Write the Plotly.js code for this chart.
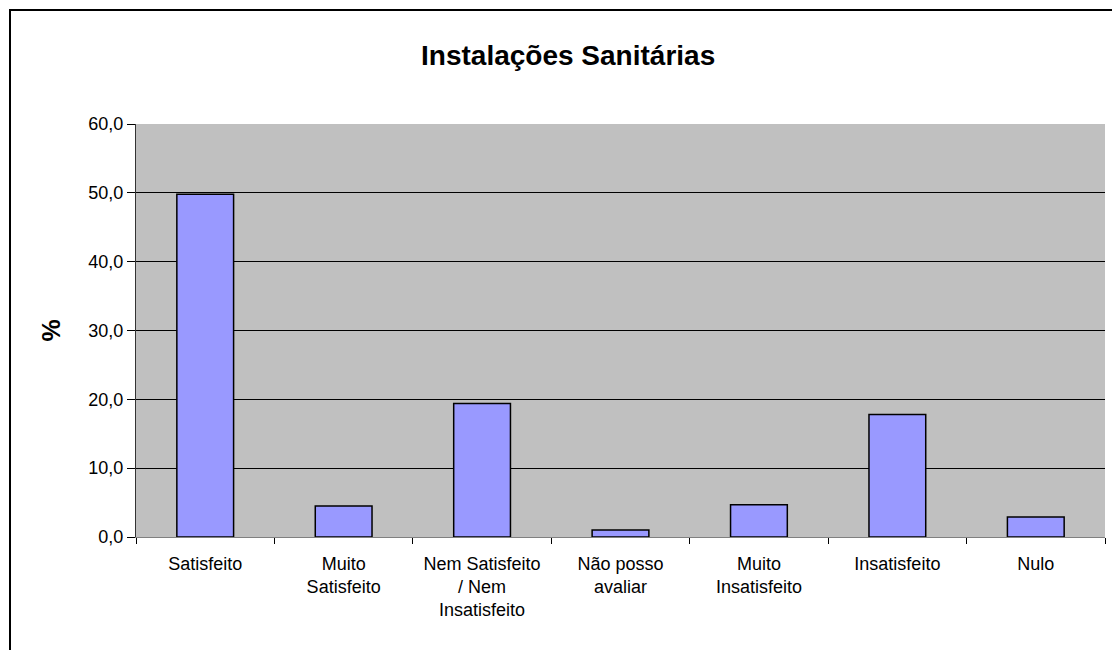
<!DOCTYPE html>
<html>
<head>
<meta charset="utf-8">
<script src="https://cdn.plot.ly/plotly-3.0.1.min.js"></script>
<style>
  html, body { margin: 0; padding: 0; background: #fff; overflow: hidden; width: 1114px; height: 650px; }
  #chart { position: absolute; left: 0; top: 0; width: 1114px; height: 650px; }
  #hline { position: absolute; left: 9px; top: 9px; width: 1103px; height: 2px; background: #000; }
  #vline { position: absolute; left: 9px; top: 9px; width: 2px; height: 641px; background: #000; }
</style>
</head>
<body>
<div id="chart"></div>
<div id="hline"></div>
<div id="vline"></div>
<script>
const categories = [
  "Satisfeito",
  "Muito<br>Satisfeito",
  "Nem Satisfeito<br>/ Nem<br>Insatisfeito",
  "Não posso<br>avaliar",
  "Muito<br>Insatisfeito",
  "Insatisfeito",
  "Nulo"
];
const percentages = [49.8, 4.5, 19.4, 1.0, 4.7, 17.8, 2.9];
const yTickValues = [0, 10, 20, 30, 40, 50, 60];
const chartTitle = "Instalações Sanitárias";
const yTitle = "%";

const trace = {
  type: "bar",
  x: categories,
  y: percentages,
  marker: { color: "#9999FF", line: { color: "#000000", width: 1.5 } },
  hoverinfo: "skip"
};

const layout = {
  width: 1114,
  height: 650,
  margin: { l: 136, r: 9, t: 124, b: 113 },
  paper_bgcolor: "rgba(0,0,0,0)",
  plot_bgcolor: "#C0C0C0",
  separators: ",.",
  showlegend: false,
  bargap: 0.59,
  font: { family: "Liberation Sans, Arial, sans-serif", size: 18, color: "#000" },
  title: {
    text: "<b>" + chartTitle + "</b>",
    font: { family: "Liberation Sans, Arial, sans-serif", size: 28, color: "#000" },
    xref: "container", x: 0.51, xanchor: "center",
    yref: "container", y: 0.915, yanchor: "middle"
  },
  xaxis: {
    type: "category",
    tickson: "boundaries",
    ticks: "outside",
    ticklen: 6,
    tickcolor: "#000",
    showline: true,
    linecolor: "#808080",
    linewidth: 1,
    showgrid: false,
    tickfont: { size: 18 },
    ticklabelstandoff: 10,
    fixedrange: true
  },
  yaxis: {
    range: [0, 60],
    tickvals: yTickValues,
    tickformat: ".1f",
    ticks: "outside",
    ticklen: 8,
    tickcolor: "#000",
    showline: true,
    linecolor: "#333",
    linewidth: 1,
    showgrid: true,
    gridcolor: "#000",
    gridwidth: 1,
    zeroline: false,
    tickfont: { size: 18 },
    title: { text: "<b>" + yTitle + "</b>", font: { size: 25 }, standoff: 20 },
    fixedrange: true
  }
};

Plotly.newPlot("chart", [trace], layout, { displayModeBar: false, staticPlot: true });
</script>
</body>
</html>
